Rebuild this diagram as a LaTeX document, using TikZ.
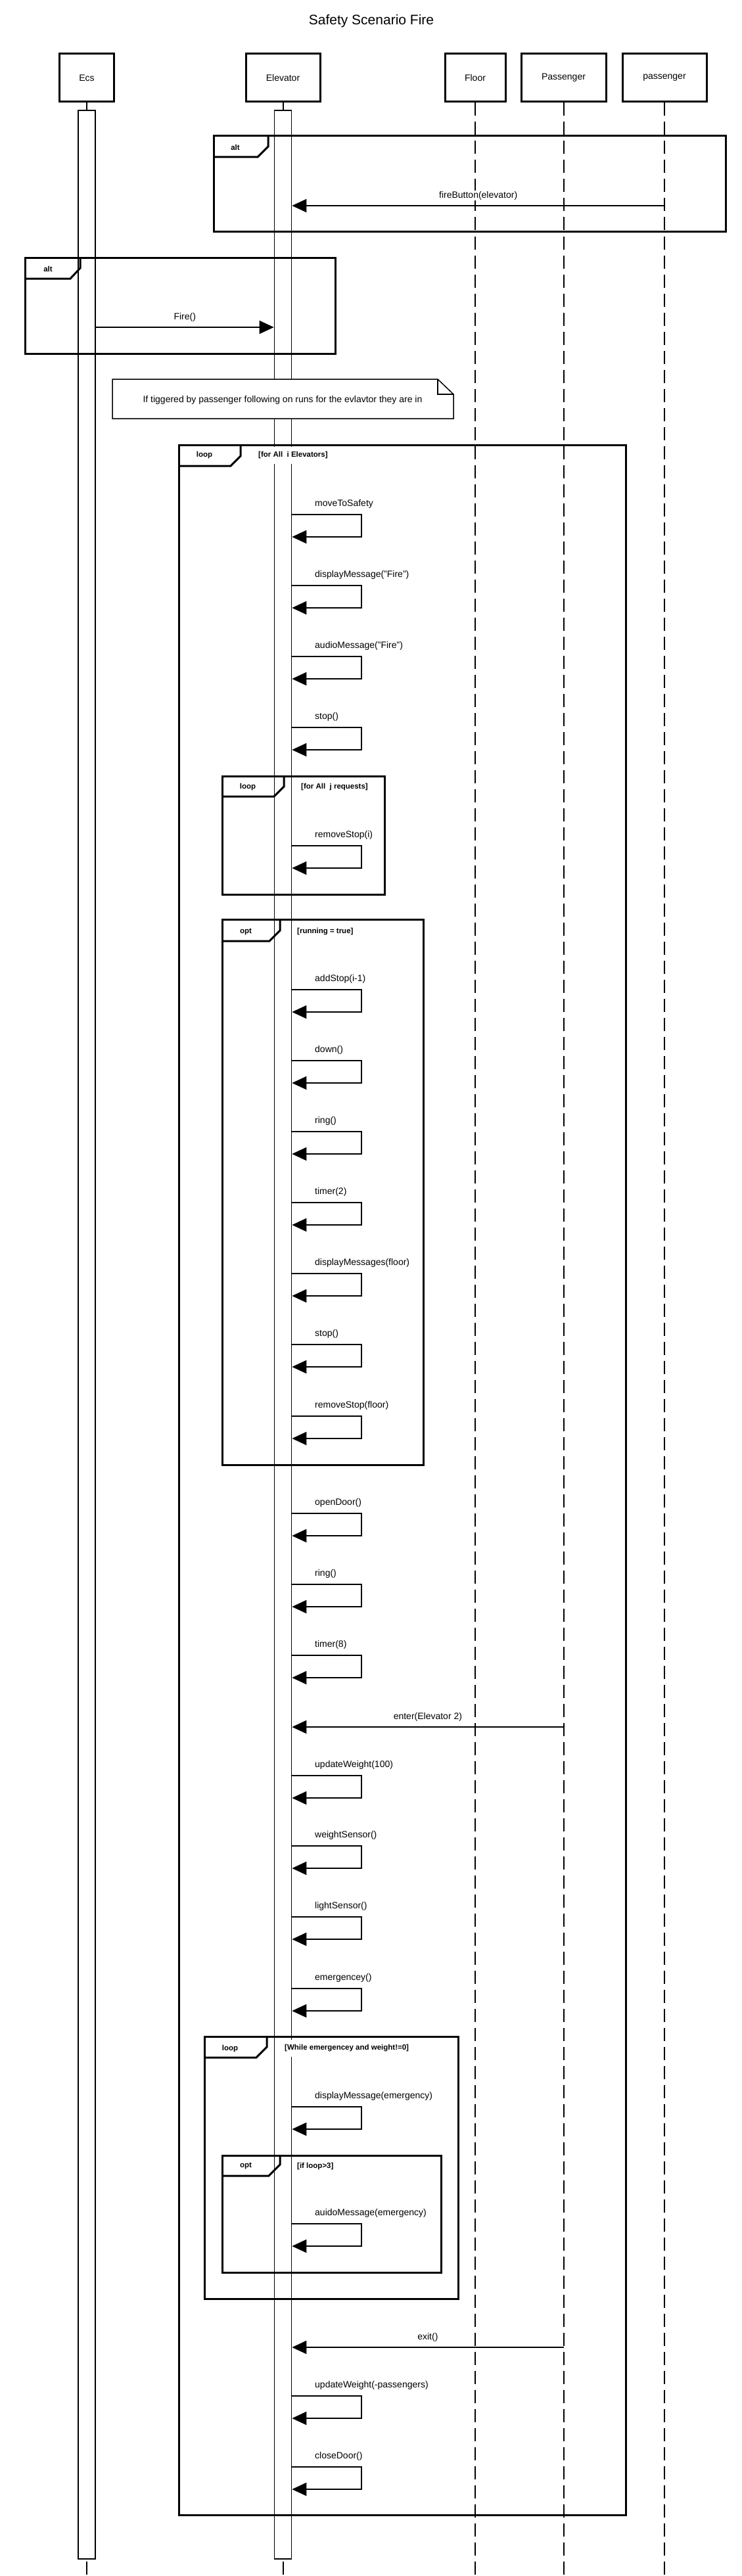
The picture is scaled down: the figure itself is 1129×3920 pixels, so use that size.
\documentclass[tikz,border=0pt]{standalone}
\usepackage{fontspec}
\setmainfont{Liberation Sans}
\usepackage{tikz}
\usetikzlibrary{arrows.meta, positioning, calc}

\begin{document}
\begin{tikzpicture}[x=1pt, y=-1pt, font=\fontsize{14}{16}\selectfont,
    head/.style={draw, line width=3pt, fill=white, minimum height=73pt, inner sep=0pt},
    life/.style={line width=2pt, dash pattern=on 20pt off 9pt},
    actbar/.style={draw, line width=1.6pt, fill=white, minimum width=26pt, minimum height=3726pt, inner sep=0pt},
    fragment/.style={line width=3pt, line join=miter},
    tabtext/.style={font=\bfseries\fontsize{11.5}{13}\selectfont, inner sep=0pt},
    guard/.style={font=\bfseries\fontsize{11.5}{13}\selectfont, fill=white, anchor=west, inner xsep=3pt, inner ysep=8pt},
    msg/.style={line width=2pt, -{Triangle[length=22pt, width=20pt]}},
    selfcall/.style={line width=2pt, -{Triangle[length=22pt, width=20pt]}},
    msgtext/.style={fill=white, inner sep=1pt},
    selftext/.style={anchor=west, inner sep=0pt}]
  \useasboundingbox (0,0) rectangle (1129,3920);
  \coordinate (bottom) at (0,3920);

  % title
  \node[font=\fontsize{21}{24}\selectfont] (title) at (565,32) {Safety Scenario Fire};

  % lifelines
  \node[head, minimum width=83pt]  (ecs)   at (132,118.5)   {Ecs};
  \node[head, minimum width=113pt] (elev)  at (430.5,118.5) {Elevator};
  \node[head, minimum width=92pt]  (floor) at (723,118.5)   {Floor};
  \node[head, minimum width=129pt] (pass)  at (857.5,118.5) {Passenger};
  \node[head, minimum width=128pt] (pass2) at (1011,118.5)  {passenger};
  \draw[life] (ecs.south)   -- (ecs |- bottom);
  \draw[life] (elev.south)  -- (elev |- bottom);
  \draw[life] (floor.south) -- (floor |- bottom);
  \draw[life] (pass.south)  -- (pass |- bottom);
  \draw[life] (pass2.south) -- (pass2 |- bottom);
  \node[actbar] (ecsbar)  at (132,2031)   {};
  \node[actbar] (elevbar) at (430.5,2031) {};

  % note
  \draw[line width=1.5pt, fill=white] (171,577) -- (666,577) -- (690,600) -- (690,637) -- (171,637) -- cycle;
  \draw[line width=1.5pt] (666,577) -- (666,600) -- (690,600);
  \node (note) at (430,609) {If tiggered by passenger following on runs for the evlavtor they are in};

  % guards
  \node[guard] (g1) at (390,693)  {[for All\ \ i Elevators]};
  \node[guard] (g2) at (455,1198) {[for All\ \ j requests]};
  \node[guard] (g3) at (449,1418) {[running = true]};
  \node[guard] (g4) at (430,3117) {[While emergencey and weight!=0]};
  \node[guard] (g5) at (449,3296) {[if loop>3]};

  % fragments
  \draw[fragment] (325,207) rectangle (1104,353);
  \draw[fragment] (325,239) -- (392,239) -- (408,223) -- (408,207);
  \node[tabtext] (alt1) at (358,224) {alt};
  \draw[fragment] (38,392) rectangle (510,538);
  \draw[fragment] (38,424) -- (107,424) -- (122,408) -- (122,392);
  \node[tabtext] (alt2) at (73,409) {alt};
  \draw[fragment] (272,677) rectangle (952,3827);
  \draw[fragment] (272,709) -- (351,709) -- (366,694) -- (366,677);
  \node[tabtext] (loop1) at (311,693) {loop};
  \draw[fragment] (338,1181) rectangle (585,1361);
  \draw[fragment] (338,1212) -- (417,1212) -- (432,1197) -- (432,1181);
  \node[tabtext] (loop2) at (377,1198) {loop};
  \draw[fragment] (338,1399) rectangle (644,2229);
  \draw[fragment] (338,1432) -- (410,1432) -- (426,1416) -- (426,1399);
  \node[tabtext] (opt1) at (374,1418) {opt};
  \draw[fragment] (311,3099) rectangle (697,3498);
  \draw[fragment] (311,3131) -- (390,3131) -- (406,3115) -- (406,3099);
  \node[tabtext] (loop3) at (350,3117) {loop};
  \draw[fragment] (338,3280) rectangle (671,3458);
  \draw[fragment] (338,3311) -- (409,3311) -- (426,3294) -- (426,3280);
  \node[tabtext] (opt2) at (374,3296) {opt};

  % messages
  \draw[msg] (pass2 |- 0,313) -- node[msgtext, above=7pt] (fire1) {fireButton(elevator)} (elevbar.east |- 0,313);
  \draw[msg] (ecsbar.east |- 0,498) -- node[msgtext, above=7pt] (fire2) {Fire()} (elevbar.west |- 0,498);
  \draw[msg] (pass |- 0,2628) -- node[msgtext, above=7pt] (enter) {enter(Elevator 2)} (elevbar.east |- 0,2628);
  \draw[msg] (pass |- 0,3572) -- node[msgtext, above=7pt] (exit) {exit()} (elevbar.east |- 0,3572);

  % self calls
  \draw[selfcall] (elevbar.east |- 0,783) -- (550,783) -- (550,817) -- (elevbar.east |- 0,817);
  \node[selftext] (s1) at (479,767) {moveToSafety};
  \draw[selfcall] (elevbar.east |- 0,891) -- (550,891) -- (550,925) -- (elevbar.east |- 0,925);
  \node[selftext] (s2) at (479,875) {displayMessage("Fire")};
  \draw[selfcall] (elevbar.east |- 0,999) -- (550,999) -- (550,1033) -- (elevbar.east |- 0,1033);
  \node[selftext] (s3) at (479,983) {audioMessage("Fire")};
  \draw[selfcall] (elevbar.east |- 0,1107) -- (550,1107) -- (550,1141) -- (elevbar.east |- 0,1141);
  \node[selftext] (s4) at (479,1091) {stop()};
  \draw[selfcall] (elevbar.east |- 0,1287) -- (550,1287) -- (550,1321) -- (elevbar.east |- 0,1321);
  \node[selftext] (s5) at (479,1271) {removeStop(i)};
  \draw[selfcall] (elevbar.east |- 0,1506) -- (550,1506) -- (550,1540) -- (elevbar.east |- 0,1540);
  \node[selftext] (s6) at (479,1490) {addStop(i-1)};
  \draw[selfcall] (elevbar.east |- 0,1614) -- (550,1614) -- (550,1648) -- (elevbar.east |- 0,1648);
  \node[selftext] (s7) at (479,1598) {down()};
  \draw[selfcall] (elevbar.east |- 0,1722) -- (550,1722) -- (550,1756) -- (elevbar.east |- 0,1756);
  \node[selftext] (s8) at (479,1706) {ring()};
  \draw[selfcall] (elevbar.east |- 0,1830) -- (550,1830) -- (550,1864) -- (elevbar.east |- 0,1864);
  \node[selftext] (s9) at (479,1814) {timer(2)};
  \draw[selfcall] (elevbar.east |- 0,1938) -- (550,1938) -- (550,1972) -- (elevbar.east |- 0,1972);
  \node[selftext] (s10) at (479,1922) {displayMessages(floor)};
  \draw[selfcall] (elevbar.east |- 0,2046) -- (550,2046) -- (550,2080) -- (elevbar.east |- 0,2080);
  \node[selftext] (s11) at (479,2030) {stop()};
  \draw[selfcall] (elevbar.east |- 0,2155) -- (550,2155) -- (550,2189) -- (elevbar.east |- 0,2189);
  \node[selftext] (s12) at (479,2139) {removeStop(floor)};
  \draw[selfcall] (elevbar.east |- 0,2303) -- (550,2303) -- (550,2337) -- (elevbar.east |- 0,2337);
  \node[selftext] (s13) at (479,2287) {openDoor()};
  \draw[selfcall] (elevbar.east |- 0,2411) -- (550,2411) -- (550,2445) -- (elevbar.east |- 0,2445);
  \node[selftext] (s14) at (479,2395) {ring()};
  \draw[selfcall] (elevbar.east |- 0,2519) -- (550,2519) -- (550,2553) -- (elevbar.east |- 0,2553);
  \node[selftext] (s15) at (479,2503) {timer(8)};
  \draw[selfcall] (elevbar.east |- 0,2702) -- (550,2702) -- (550,2736) -- (elevbar.east |- 0,2736);
  \node[selftext] (s16) at (479,2686) {updateWeight(100)};
  \draw[selfcall] (elevbar.east |- 0,2809) -- (550,2809) -- (550,2843) -- (elevbar.east |- 0,2843);
  \node[selftext] (s17) at (479,2793) {weightSensor()};
  \draw[selfcall] (elevbar.east |- 0,2917) -- (550,2917) -- (550,2951) -- (elevbar.east |- 0,2951);
  \node[selftext] (s18) at (479,2901) {lightSensor()};
  \draw[selfcall] (elevbar.east |- 0,3026) -- (550,3026) -- (550,3060) -- (elevbar.east |- 0,3060);
  \node[selftext] (s19) at (479,3010) {emergencey()};
  \draw[selfcall] (elevbar.east |- 0,3206) -- (550,3206) -- (550,3240) -- (elevbar.east |- 0,3240);
  \node[selftext] (s20) at (479,3190) {displayMessage(emergency)};
  \draw[selfcall] (elevbar.east |- 0,3384) -- (550,3384) -- (550,3418) -- (elevbar.east |- 0,3418);
  \node[selftext] (s21) at (479,3368) {auidoMessage(emergency)};
  \draw[selfcall] (elevbar.east |- 0,3646) -- (550,3646) -- (550,3680) -- (elevbar.east |- 0,3680);
  \node[selftext] (s22) at (479,3630) {updateWeight(-passengers)};
  \draw[selfcall] (elevbar.east |- 0,3754) -- (550,3754) -- (550,3788) -- (elevbar.east |- 0,3788);
  \node[selftext] (s23) at (479,3738) {closeDoor()};
\end{tikzpicture}
\end{document}
